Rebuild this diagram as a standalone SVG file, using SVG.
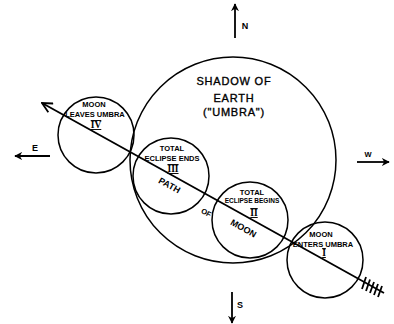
<svg xmlns="http://www.w3.org/2000/svg" width="394" height="324" viewBox="0 0 394 324">
<defs>
<marker id="solid" viewBox="0 0 10 10" refX="9" refY="5" markerWidth="8" markerHeight="8" orient="auto" markerUnits="userSpaceOnUse">
<path d="M0,0 L10,5 L0,10 L3,5 Z" fill="#000"/>
</marker>
<marker id="open" viewBox="0 0 12 12" refX="11" refY="6" markerWidth="12" markerHeight="12" orient="auto" markerUnits="userSpaceOnUse">
<path d="M1,1 L11,6 L1,11" fill="none" stroke="#000" stroke-width="1.8"/>
</marker>
<style>
.c{fill:none;stroke:#000;stroke-width:1.5}
.ln{fill:none;stroke:#000;stroke-width:1.8}
text{font-family:"Liberation Sans",Arial,sans-serif;fill:#000;text-anchor:middle;font-weight:bold}
.big{font-size:11px;letter-spacing:0.8px;font-weight:normal;stroke:#000;stroke-width:0.35}
.sm{font-size:7.5px}
.xs{font-size:6.5px}
.rom{font-family:"Liberation Serif","Times New Roman",serif;font-size:9.5px;text-decoration:underline overline}
.cmp{font-size:9px}
</style>
</defs>
<rect width="394" height="324" fill="#fff"/>
<g id="umbra">
<circle class="c" cx="233" cy="160" r="103"/>
<text class="big" x="234" y="85">SHADOW OF</text>
<text class="big" x="234" y="102">EARTH</text>
<text class="big" x="234" y="116">("UMBRA")</text>
</g>
<g id="moon4">
<circle class="c" cx="96" cy="135" r="38"/>
<text class="sm" x="94" y="107">MOON</text>
<text class="sm" x="95" y="117">LEAVES UMBRA</text>
<text class="rom" x="96" y="128">IV</text>
</g>
<g id="moon3">
<circle class="c" cx="171" cy="176" r="38"/>
<text class="sm" x="172" y="151">TOTAL</text>
<text class="sm" x="172" y="161">ECLIPSE ENDS</text>
<text class="rom" x="173" y="172">III</text>
<text class="cmp" x="0" y="0" transform="translate(168,188) rotate(29)">PATH</text>
</g>
<g id="moon2">
<circle class="c" cx="250" cy="220" r="38"/>
<text class="sm" x="252" y="195">TOTAL</text>
<text class="xs" x="252" y="203">ECLIPSE BEGINS</text>
<text class="rom" x="254" y="216">II</text>
<text class="cmp" x="0" y="0" transform="translate(242,231) rotate(29)">MOON</text>
</g>
<g id="moon1">
<circle class="c" cx="325" cy="260" r="38"/>
<text class="sm" x="321" y="237">MOON</text>
<text class="sm" x="323" y="247">ENTERS UMBRA</text>
<text class="rom" x="324" y="256">I</text>
</g>
<g id="of-label">
<text class="sm" x="0" y="0" transform="translate(205,215) rotate(29)">OF</text>
</g>
<g id="connectors">
<line class="ln" x1="384" y1="293" x2="42" y2="103" marker-end="url(#open)"/>
<g class="ln" stroke-width="1.3">
<line x1="366" y1="277" x2="362" y2="289"/>
<line x1="370" y1="279.5" x2="366" y2="291"/>
<line x1="374" y1="282" x2="370" y2="293"/>
<line x1="378" y1="284" x2="374" y2="295"/>
<line x1="382" y1="286" x2="378" y2="297"/>
</g>
<line class="ln" x1="235" y1="38" x2="235" y2="4" marker-end="url(#solid)"/>
<line class="ln" x1="232" y1="292" x2="232" y2="323" marker-end="url(#solid)"/>
<line class="ln" x1="357" y1="162" x2="389" y2="162" marker-end="url(#solid)"/>
<line class="ln" x1="50" y1="156" x2="15" y2="156" marker-end="url(#solid)"/>
</g>
<g id="compass-labels">
<text class="cmp" x="245" y="29">N</text>
<text class="cmp" x="240" y="308">S</text>
<text class="sm" x="368" y="157">W</text>
<text class="cmp" x="35" y="151">E</text>
</g>
</svg>
